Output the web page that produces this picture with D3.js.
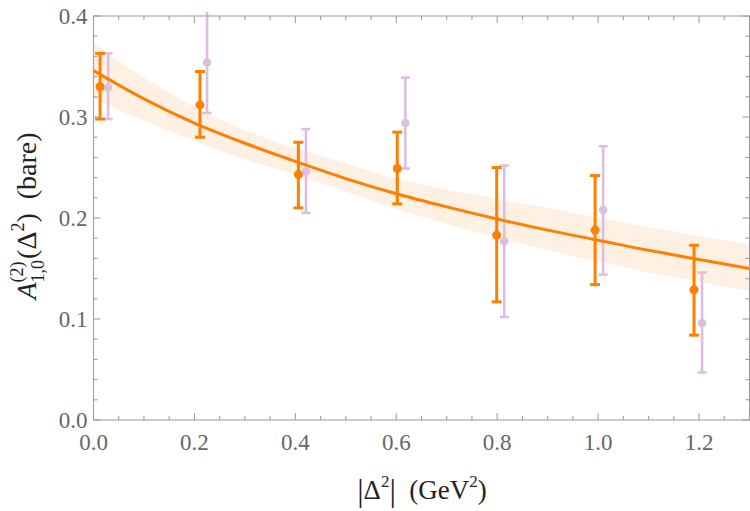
<!DOCTYPE html>
<html><head><meta charset="utf-8">
<script src="https://cdn.jsdelivr.net/npm/d3@7"></script>
<style>body{margin:0;background:#fff}svg{display:block}</style>
</head><body><svg id="c" width="750" height="511"></svg>
<script>
// ---- data ----
const orangeX   = [0.013, 0.211, 0.406, 0.602, 0.799, 0.994, 1.190];
const orangeY   = [0.330, 0.312, 0.243, 0.249, 0.183, 0.188, 0.129];
const orangeLo  = [0.298, 0.280, 0.210, 0.214, 0.117, 0.134, 0.084];
const orangeHi  = [0.363, 0.345, 0.275, 0.285, 0.250, 0.242, 0.173];
const purpleX   = [0.029, 0.225, 0.421, 0.618, 0.814, 1.010, 1.206];
const purpleY   = [0.329, 0.354, 0.246, 0.294, 0.177, 0.208, 0.096];
const purpleLo  = [0.298, 0.304, 0.205, 0.249, 0.102, 0.144, 0.047];
const purpleHi  = [0.363, 0.404, 0.288, 0.339, 0.252, 0.271, 0.146];
const fitX      = [0, 0.1, 0.2, 0.3, 0.4, 0.5, 0.6, 0.7, 0.8, 0.9, 1.0, 1.1, 1.2, 1.3];
const fitY      = [0.346, 0.318, 0.294, 0.274, 0.256, 0.239, 0.224, 0.211, 0.199, 0.188, 0.178, 0.168, 0.159, 0.150];
const fitHi     = [0.373, 0.339, 0.310, 0.287, 0.269, 0.254, 0.239, 0.228, 0.219, 0.210, 0.200, 0.191, 0.182, 0.174];
const fitLo     = [0.318, 0.296, 0.276, 0.258, 0.243, 0.226, 0.209, 0.194, 0.181, 0.168, 0.157, 0.146, 0.137, 0.128];
const xTicks    = [0.0, 0.2, 0.4, 0.6, 0.8, 1.0, 1.2];
const yTicks    = [0.0, 0.1, 0.2, 0.3, 0.4];

// ---- layout ----
const svg = d3.select("#c");
const L = 93.5, R = 749.5, T = 16, B = 420;
const x = d3.scaleLinear().domain([0, 1.3]).range([L, R]);
const y = d3.scaleLinear().domain([0, 0.4]).range([B, T]);
const ORANGE = "#ff7f00", PURPLE = "#dcbee1", BAND = "#fef0e3", FRAME = "#a0a0a0", TXT = "#666";
const SERIF = "'Liberation Serif','DejaVu Serif',serif";

// band
const idx = d3.range(fitX.length);
svg.append("path")
  .attr("d", d3.area().x(i => x(fitX[i])).y0(i => y(fitLo[i])).y1(i => y(fitHi[i])).curve(d3.curveMonotoneX)(idx))
  .attr("fill", BAND);

function series(X, Y, Lo, Hi, color, sw, cap, r) {
  const g = svg.append("g");
  X.forEach((xv, i) => {
    const top = Math.min(Hi[i], 0.404);
    g.append("line").attr("x1", x(xv)).attr("x2", x(xv)).attr("y1", y(Lo[i])).attr("y2", y(top))
      .attr("stroke", color).attr("stroke-width", sw);
    const caps = [Lo[i]];
    if (Hi[i] <= 0.4) caps.push(Hi[i]);
    caps.forEach(v => g.append("line").attr("x1", x(xv) - cap).attr("x2", x(xv) + cap)
      .attr("y1", y(v)).attr("y2", y(v)).attr("stroke", color).attr("stroke-width", sw));
    g.append("circle").attr("cx", x(xv)).attr("cy", y(Y[i])).attr("r", r).attr("fill", color);
  });
}
series(purpleX, purpleY, purpleLo, purpleHi, PURPLE, 2.6, 4.5, 4.3);

// fit line
svg.append("path")
  .attr("d", d3.line().x(i => x(fitX[i])).y(i => y(fitY[i])).curve(d3.curveMonotoneX)(idx))
  .attr("fill", "none").attr("stroke", ORANGE).attr("stroke-width", 3);

series(orangeX, orangeY, orangeLo, orangeHi, ORANGE, 3, 5, 4.5);

// frame
const fr = svg.append("g").attr("stroke", FRAME).attr("stroke-width", 1.1);
fr.append("rect").attr("x", L).attr("y", T).attr("width", R - L).attr("height", B - T).attr("fill", "none");
d3.range(0, 1.3001, 0.05).forEach(v => {
  const major = Math.abs(Math.round(v / 0.2) * 0.2 - v) < 1e-6;
  const len = major ? 7 : 4;
  fr.append("line").attr("x1", x(v)).attr("x2", x(v)).attr("y1", B).attr("y2", B - len);
  fr.append("line").attr("x1", x(v)).attr("x2", x(v)).attr("y1", T).attr("y2", T + len);
});
d3.range(0, 0.4001, 0.02).forEach(v => {
  const major = Math.abs(Math.round(v / 0.1) * 0.1 - v) < 1e-6;
  const len = major ? 7 : 4;
  fr.append("line").attr("y1", y(v)).attr("y2", y(v)).attr("x1", L).attr("x2", L + len);
  fr.append("line").attr("y1", y(v)).attr("y2", y(v)).attr("x1", R).attr("x2", R - len);
});

// tick labels
svg.append("g").selectAll("text").data(xTicks).join("text")
  .attr("x", d => x(d)).attr("y", B + 30).attr("text-anchor", "middle")
  .attr("font-family", SERIF).attr("font-size", 23).attr("fill", TXT).text(d => d.toFixed(1));
svg.append("g").selectAll("text").data(yTicks).join("text")
  .attr("x", L - 6).attr("y", d => y(d) + 8).attr("text-anchor", "end")
  .attr("font-family", SERIF).attr("font-size", 23).attr("fill", TXT).text(d => d.toFixed(1));

// x axis label
const xl = svg.append("text").attr("x", 422).attr("y", 499).attr("text-anchor", "middle")
  .attr("font-family", SERIF).attr("font-size", 27).attr("fill", "#222");
xl.append("tspan").attr("font-size", 32).attr("dy", 2).text("|");
xl.append("tspan").attr("dy", -2).text("Δ");
xl.append("tspan").attr("font-size", 17).attr("dy", -12).text("2");
xl.append("tspan").attr("font-size", 32).attr("dy", 14).text("|");
xl.append("tspan").attr("dy", -2).text("\u2002(GeV");
xl.append("tspan").attr("font-size", 17).attr("dy", -12).text("2");
xl.append("tspan").attr("dy", 12).text(")");

// y axis label (rotated)
const yl = svg.append("g").attr("transform", "translate(36,216) rotate(-90)");
const parts = [];
let cx = 0;
function piece(txt, size, dy, italic, advance = true) {
  const t = yl.append("text").attr("x", cx).attr("y", dy).attr("font-family", SERIF)
    .attr("font-size", size).attr("fill", "#222").attr("font-style", italic ? "italic" : "normal").text(txt);
  const w = t.node().getComputedTextLength();
  parts.push(t);
  if (advance) cx += w;
  return w;
}
piece("A", 28, 0, true);
const w1 = piece("(2)", 18, -13, false, false);
const w2 = piece("1,0", 18, 8, false, false);
cx += Math.max(w1, w2) + 1;
piece("(Δ", 28, 0, false);
piece("2", 18, -12, false);
piece(")\u2002(bare)", 28, 0, false);
const total = cx;
parts.forEach(t => t.attr("x", +t.attr("x") - total / 2));
</script></body></html>
